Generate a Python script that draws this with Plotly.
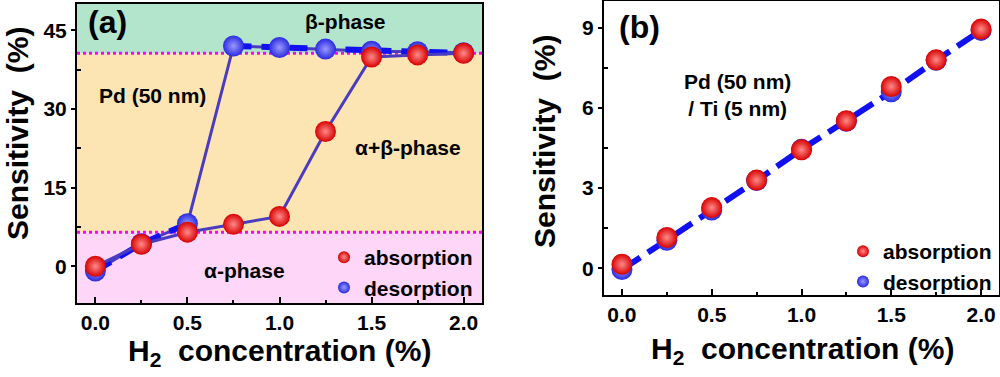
import plotly.graph_objects as go

# ---------------- data ----------------
conc = [0.0, 0.25, 0.5, 0.75, 1.0, 1.25, 1.5, 1.75, 2.0]

# panel (a) Pd (50 nm)
a_absorption = [0.0, 4.2, 6.5, 8.0, 9.5, 25.7, 39.9, 40.3, 40.6]
a_desorption = [-0.9, 4.3, 8.1, 42.0, 41.7, 41.4, 41.0, 40.9, 40.7]

# panel (b) Pd (50 nm) / Ti (5 nm)
b_absorption = [0.15, 1.15, 2.27, 3.3, 4.43, 5.52, 6.8, 7.8, 8.95]
b_desorption = [-0.05, 1.05, 2.18, 3.28, 4.45, 5.5, 6.6, 7.78, 8.9]

# phase boundaries (panel a)
alpha_limit = 6.5
beta_limit = 40.6

a_yticks = [0, 15, 30, 45]
b_yticks = [0, 3, 6, 9]
xticks = [0.0, 0.5, 1.0, 1.5, 2.0]
xtick_labels = ["0.0", "0.5", "1.0", "1.5", "2.0"]

# ---------------- styling ----------------
FONT = "Liberation Sans, Arial, sans-serif"
PURPLE = "#4a3cc0"
BLUE = "#1010f0"

red_marker = dict(size=21, color="#d80000",
                  gradient=dict(type="radial", color="#ff8a8a"),
                  line=dict(width=0))
blue_marker = dict(size=21, color="#2a2ae0",
                   gradient=dict(type="radial", color="#9a9aff"),
                   line=dict(width=0))

fig = go.Figure()

# ----- panel (a) -----
fig.add_trace(go.Scatter(x=conc, y=a_desorption, mode="lines",
                         line=dict(color=PURPLE, width=3),
                         xaxis="x", yaxis="y", showlegend=False, hoverinfo="skip"))
jump = 3  # index where desorption jumps back into the beta phase
blue_x = conc[:jump] + [None] + conc[jump:]
blue_y = a_desorption[:jump] + [None] + a_desorption[jump:]
fig.add_trace(go.Scatter(x=blue_x, y=blue_y, mode="lines",
                         line=dict(color=BLUE, width=6, dash="18px,10px"),
                         connectgaps=False,
                         xaxis="x", yaxis="y", showlegend=False, hoverinfo="skip"))
fig.add_trace(go.Scatter(x=conc, y=a_absorption, mode="lines",
                         line=dict(color=PURPLE, width=3),
                         xaxis="x", yaxis="y", showlegend=False, hoverinfo="skip"))
fig.add_trace(go.Scatter(x=conc, y=a_desorption, mode="markers", name="desorption",
                         marker=blue_marker, xaxis="x", yaxis="y", legend="legend",
                         legendrank=2))
fig.add_trace(go.Scatter(x=conc, y=a_absorption, mode="markers", name="absorption",
                         marker=red_marker, xaxis="x", yaxis="y", legend="legend",
                         legendrank=1))

# ----- panel (b) -----
fig.add_trace(go.Scatter(x=conc, y=b_desorption, mode="lines",
                         line=dict(color=BLUE, width=6, dash="22px,9px"),
                         xaxis="x2", yaxis="y2", showlegend=False, hoverinfo="skip"))
fig.add_trace(go.Scatter(x=conc, y=b_desorption, mode="markers", name="desorption",
                         marker=blue_marker, xaxis="x2", yaxis="y2", legend="legend2",
                         legendrank=2))
fig.add_trace(go.Scatter(x=conc, y=b_absorption, mode="markers", name="absorption",
                         marker=red_marker, xaxis="x2", yaxis="y2", legend="legend2",
                         legendrank=1))

a_yrange = [-7, 50]
b_yrange = [-1, 10]

shapes = [
    dict(type="rect", xref="x domain", yref="y", x0=0, x1=1, y0=a_yrange[0], y1=alpha_limit,
         fillcolor="#fdd6f8", line=dict(width=0), layer="below"),
    dict(type="rect", xref="x domain", yref="y", x0=0, x1=1, y0=alpha_limit, y1=beta_limit,
         fillcolor="#fde5b3", line=dict(width=0), layer="below"),
    dict(type="rect", xref="x domain", yref="y", x0=0, x1=1, y0=beta_limit, y1=a_yrange[1],
         fillcolor="#b2e5cb", line=dict(width=0), layer="below"),
    dict(type="line", xref="x domain", yref="y", x0=0, x1=1, y0=alpha_limit, y1=alpha_limit,
         line=dict(color="#ff00ff", width=3, dash="dot"), layer="below"),
    dict(type="line", xref="x domain", yref="y", x0=0, x1=1, y0=beta_limit, y1=beta_limit,
         line=dict(color="#ff00ff", width=3, dash="dot"), layer="below"),
]

tickfont = dict(family=FONT, size=21, color="black", weight="bold")

def xaxis(domain, anchor):
    return dict(domain=domain, anchor=anchor, range=[-0.1, 2.1],
                tickvals=xticks, ticktext=xtick_labels, tickfont=tickfont,
                ticks="inside", ticklen=6, tickwidth=2, tickcolor="black",
                ticklabeloverflow="allow",
                minor=dict(dtick=0.25, ticks="inside", ticklen=3, tickwidth=1.5, tickcolor="black"),
                showline=True, linecolor="black", linewidth=2, mirror=True,
                showgrid=False, zeroline=False, automargin=False)

def yaxis(domain, anchor, rng, tv):
    return dict(domain=domain, anchor=anchor, range=rng, tickvals=tv,
                tickfont=tickfont,
                ticks="outside", ticklen=4, tickwidth=2, tickcolor="black",
                minor=dict(tickvals=[(tv[i] + tv[i + 1]) / 2 for i in range(len(tv) - 1)],
                           ticks="inside", ticklen=4, tickwidth=1.5, tickcolor="black"),
                showline=True, linecolor="black", linewidth=2, mirror=True,
                showgrid=False, zeroline=False, automargin=False)

txt = lambda s: dict(family=FONT, size=s, color="black")

def ann(text, xpx, ypx, size, angle=0):
    return dict(text=text, x=xpx / 1000, y=1 - ypx / 377, xref="paper", yref="paper",
                xanchor="center", yanchor="middle", textangle=angle,
                showarrow=False, font=txt(size))

annotations = [
    ann("<b>(a)</b>", 107, 22, 32),
    ann("<b>(b)</b>", 639, 27, 32),
    ann("<b>β-phase</b>", 345, 22, 21),
    ann("<b>Pd (50 nm)</b>", 152, 96, 21),
    ann("<b>α+β-phase</b>", 408, 147, 21),
    ann("<b>α-phase</b>", 244, 270, 21),
    ann("<b>Pd (50 nm)<br>/ Ti (5 nm)</b>", 737, 95, 21),
    ann("<b>Sensitivity  (%)</b>", 17, 134, 30, -90),
    ann("<b>Sensitivity  (%)</b>", 545, 142, 30, -90),
    ann("<b>H<sub>2</sub>  concentration (%)</b>", 279, 352, 30),
    ann("<b>H<sub>2</sub>  concentration (%)</b>", 802, 350, 30),
]

legend_common = dict(font=dict(family=FONT, size=21, color="black", weight="bold"),
                     bgcolor="rgba(0,0,0,0)", borderwidth=0, tracegroupgap=0,
                     itemsizing="constant", traceorder="normal",
                     xanchor="right", yanchor="top", itemwidth=30)

fig.update_layout(
    width=1000, height=377,
    margin=dict(l=0, r=0, t=0, b=0),
    paper_bgcolor="white", plot_bgcolor="white",
    xaxis=xaxis([0.077, 0.482], "y"),
    yaxis=yaxis([1 - 303 / 377, 1 - 4 / 377], "x", a_yrange, a_yticks),
    xaxis2=xaxis([0.604, 0.999], "y2"),
    yaxis2=yaxis([1 - 295 / 377, 1 - 1 / 377], "x2", b_yrange, b_yticks),
    shapes=shapes,
    annotations=annotations,
    legend=dict(x=0.478, y=1 - 237 / 377, **legend_common),
    legend2=dict(x=0.997, y=1 - 231 / 377, **legend_common),
    showlegend=True,
)

fig.write_html("out.html", config={"displayModeBar": False},
               post_script="document.body.style.margin='0';document.body.style.overflow='hidden';")
